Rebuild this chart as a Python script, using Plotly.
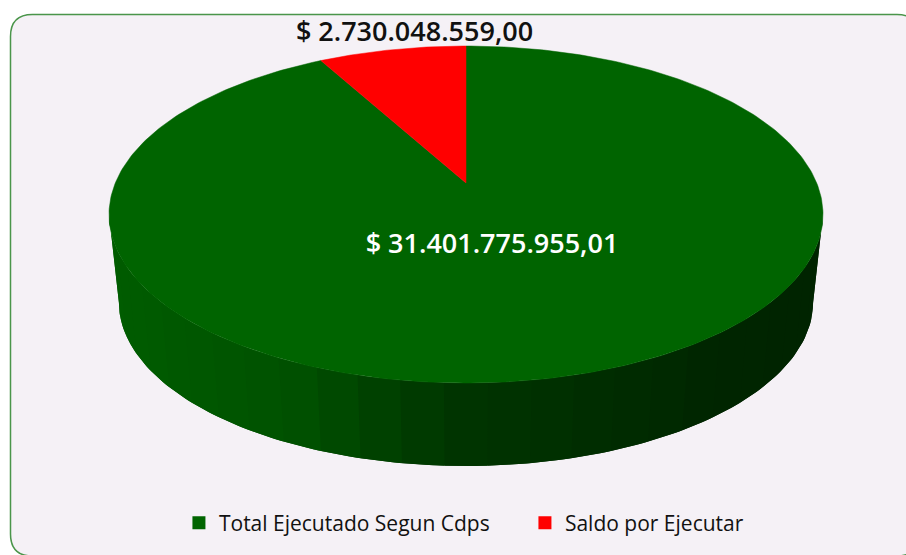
import numpy as np
import plotly.graph_objects as go

categories = ["Total Ejecutado Segun Cdps", "Saldo por Ejecutar"]
values = [31401775955.01, 2730048559.00]
value_labels = ["$ 31.401.775.955,01", "$ 2.730.048.559,00"]
slice_colors = ["#006400", "#ff0000"]

W, H = 906, 555
TOP = dict(cx=466.0, cy=183.0, ax=350.7, ay=162.6)
BOTTOM = dict(cx=466.0, cy=271.6, ax=341.0, ay=158.0)
K = 0.187


def project(theta, g):
    """Perspective projection of a point on the unit circle (theta clockwise from top)."""
    u, v = np.sin(theta), np.cos(theta)
    d = 1 + K * v
    return g["cx"] + g["ax"] * u / d, g["cy"] - g["ay"] * v / d


def side_color(x):
    g = np.interp(x, [119, 220, 300, 350, 400, 466, 600, 720, 813],
                  [0x5c, 0x56, 0x50, 0x47, 0x3e, 0x34, 0x2d, 0x25, 0x24])
    return f"rgb(0,{int(round(g))},0)"


fig = go.Figure()

# Side wall: vertical bands between the two rims, each overlapped by the next
edge = np.arcsin(K)
start = np.pi / 2 + edge
end = 3 * np.pi / 2 - edge
n_bands = 27
angles = np.linspace(start, end, n_bands + 1)
step = angles[1] - angles[0]
for a0, a1 in zip(angles[:-1], angles[1:]):
    # ordered from the right-hand silhouette towards the left one
    t = np.linspace(a0, min(a1 + step, end), 12)
    xt, yt = project(t, TOP)
    xb, yb = project(t[::-1], BOTTOM)
    xmid, _ = project(np.array([(a0 + a1) / 2]), BOTTOM)
    col = side_color(xmid[0])
    fig.add_trace(go.Scatter(
        x=np.r_[xt, xb, xt[0]], y=np.r_[yt, yb, yt[0]],
        mode="lines", fill="toself", fillcolor=col,
        line=dict(color=col, width=0), showlegend=False, hoverinfo="skip"))

# Top face: slices swept clockwise from 12 o'clock
shares = np.array(values) / np.sum(values)
bounds = np.r_[0, np.cumsum(shares)] * 2 * np.pi
for i, (a0, a1) in enumerate(zip(bounds[:-1], bounds[1:])):
    t = np.linspace(a0, a1, 361)
    x, y = project(t, TOP)
    fig.add_trace(go.Scatter(
        x=np.r_[TOP["cx"], x, TOP["cx"]], y=np.r_[TOP["cy"], y, TOP["cy"]],
        mode="lines", fill="toself", fillcolor=slice_colors[i],
        line=dict(color=slice_colors[i], width=0.5),
        showlegend=False, name=categories[i], text=value_labels[i], hoverinfo="name+text"))

# Legend entries
for name, col in zip(categories, slice_colors):
    fig.add_trace(go.Scatter(
        x=[None], y=[None], mode="markers", name=name,
        marker=dict(symbol="square", size=13, color=col)))

# Value labels
fig.add_trace(go.Scatter(
    x=[492, 414.5], y=[246, 34], mode="text", text=value_labels,
    textposition="middle center",
    textfont=dict(family="Open Sans", size=27, color=["#ffffff", "#111111"], weight=600),
    showlegend=False, hoverinfo="skip"))

# Rounded panel
x0, y0, x1, y1, r = 10.5, 14.5, 919, 556, 22
panel = (f"M {x0+r} {y0} L {x1-r} {y0} Q {x1} {y0} {x1} {y0+r} L {x1} {y1-r} "
         f"Q {x1} {y1} {x1-r} {y1} L {x0+r} {y1} Q {x0} {y1} {x0} {y1-r} "
         f"L {x0} {y0+r} Q {x0} {y0} {x0+r} {y0} Z")

fig.update_layout(
    width=W, height=H, margin=dict(l=0, r=0, t=0, b=0),
    paper_bgcolor="#ffffff", plot_bgcolor="rgba(0,0,0,0)",
    xaxis=dict(range=[0, W], visible=False, fixedrange=True),
    yaxis=dict(range=[H, 0], visible=False, fixedrange=True),
    shapes=[dict(type="path", path=panel, xref="x", yref="y", layer="below",
                 fillcolor="#f5f1f6", line=dict(color="#4a954a", width=1.5))],
    legend=dict(orientation="h", x=0.1975, y=0.0577, xanchor="left", yanchor="middle",
                bgcolor="rgba(0,0,0,0)", font=dict(family="Open Sans", size=21, color="#111111"),
                itemwidth=30, entrywidth=301, entrywidthmode="pixels", traceorder="normal"),
)

fig.write_html("out.html", config=dict(displayModeBar=False),
               post_script="document.body.style.margin='0';")
